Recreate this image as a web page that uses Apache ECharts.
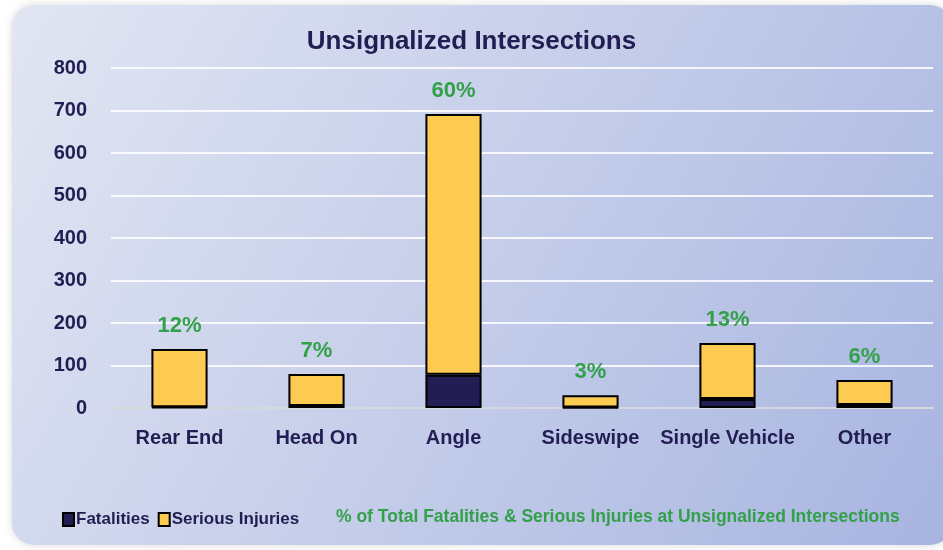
<!DOCTYPE html>
<html>
<head>
<meta charset="utf-8">
<script src="https://cdn.jsdelivr.net/npm/echarts@6/dist/echarts.min.js"></script>
<style>
  html, body { margin: 0; padding: 0; background: #fff; }
  #chart { width: 943px; height: 550px; }
</style>
</head>
<body>
<div id="chart"></div>
<script>
  // data
  var categories = ['Rear End', 'Head On', 'Angle', 'Sideswipe', 'Single Vehicle', 'Other'];
  var fatalities = [2, 5, 78, 1, 21, 7];
  var seriousInjuries = [137, 75, 614, 29, 132, 59];
  var shareLabels = ['12%', '7%', '60%', '3%', '13%', '6%'];
  var yTicks = [0, 100, 200, 300, 400, 500, 600, 700, 800];

  var navy = '#221d52';
  var font = '"Liberation Sans", Arial, sans-serif';

  var chart = echarts.init(document.getElementById('chart'));

  chart.setOption({
    backgroundColor: '#fff',
    textStyle: { fontFamily: font },
    graphic: [
      {
        type: 'rect',
        z: -10,
        shape: { x: 12, y: 5, width: 940, height: 540, r: 22 },
        style: {
          fill: new echarts.graphic.LinearGradient(0, 0, 1, 1, [
            { offset: 0, color: '#e2e6f3' },
            { offset: 1, color: '#a7b4e0' }
          ]),
          shadowBlur: 8,
          shadowColor: 'rgba(0,0,0,0.15)'
        }
      },
      {
        type: 'text',
        left: 336,
        top: 508,
        style: {
          text: '% of Total Fatalities & Serious Injuries at Unsignalized Intersections',
          fill: '#33a04a',
          font: 'bold 17.5px ' + font
        }
      }
    ],
    title: {
      text: 'Unsignalized Intersections',
      left: 'center',
      top: 24,
      textStyle: { color: navy, fontSize: 26, fontWeight: 'bold', fontFamily: font }
    },
    legend: {
      left: 57,
      top: 506,
      icon: 'rect',
      itemWidth: 11,
      itemHeight: 13,
      itemGap: 8,
      data: ['Fatalities', 'Serious Injuries'],
      textStyle: { color: navy, fontSize: 17, fontWeight: 'bold', fontFamily: font, padding: [0, 0, 0, -3] }
    },
    grid: { left: 111, right: 10, top: 68, bottom: 142 },
    xAxis: {
      type: 'category',
      data: categories,
      axisTick: { show: false },
      axisLine: { lineStyle: { color: '#d6d8de', width: 2 } },
      axisLabel: { interval: 0, color: navy, fontSize: 20, fontWeight: 'bold', margin: 20, fontFamily: font }
    },
    yAxis: {
      type: 'value',
      min: yTicks[0],
      max: yTicks[yTicks.length - 1],
      interval: 100,
      axisLine: { show: false },
      axisTick: { show: false },
      splitLine: { lineStyle: { color: 'rgba(255,255,255,0.85)', width: 2 } },
      axisLabel: { color: navy, fontSize: 20, fontWeight: 'bold', margin: 24, fontFamily: font }
    },
    series: [
      {
        name: 'Fatalities',
        type: 'bar',
        stack: 'total',
        barWidth: '41%',
        data: fatalities,
        itemStyle: { color: navy, borderColor: '#000', borderWidth: 2 }
      },
      {
        name: 'Serious Injuries',
        type: 'bar',
        stack: 'total',
        data: seriousInjuries,
        itemStyle: { color: '#fdca52', borderColor: '#000', borderWidth: 2 },
        label: {
          show: true,
          position: 'top',
          distance: 12,
          color: '#33a04a',
          fontSize: 22,
          fontWeight: 'bold',
          fontFamily: font,
          formatter: function (p) { return shareLabels[p.dataIndex]; }
        }
      }
    ]
  });
</script>
</body>
</html>
